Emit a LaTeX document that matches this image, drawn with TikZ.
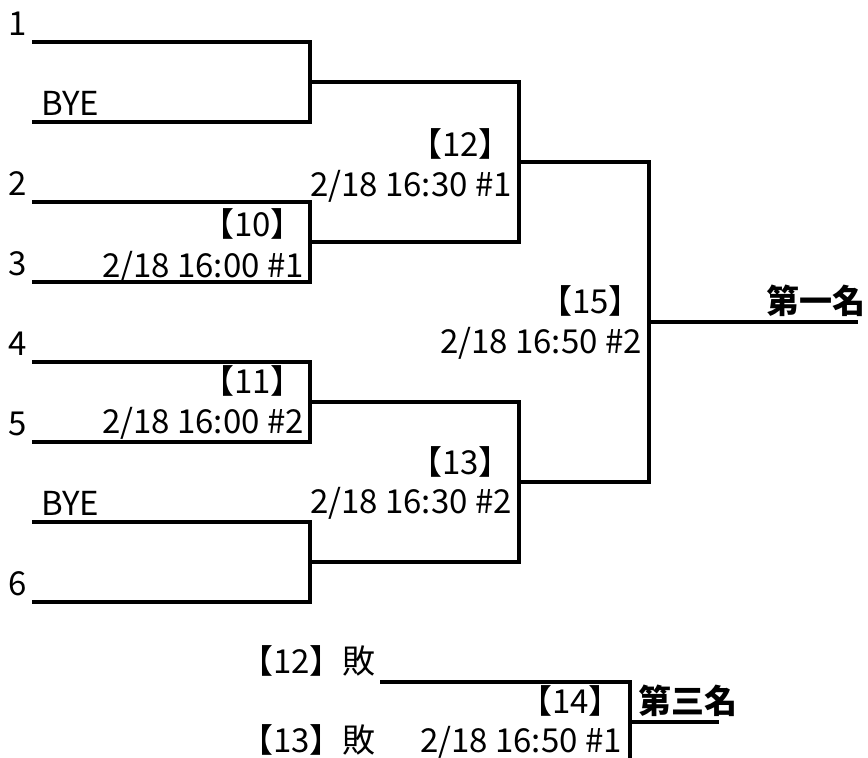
\documentclass[tikz,border=0pt]{standalone}
\usepackage{fontspec}
\setmainfont{Noto Sans CJK TC}
\usetikzlibrary{positioning}

\begin{document}
\begin{tikzpicture}[
  x=1pt, y=-1pt,
  font=\fontsize{33}{38}\selectfont,
  bline/.style={line width=3.2pt, draw=black},
  seed/.style={anchor=base west, inner sep=0pt},
  match/.style={anchor=base east, inner sep=0pt},
  place/.style={inner sep=0pt, font=\fontsize{33}{38}\selectfont\bfseries}
]
\useasboundingbox (0,0) rectangle (868,758);
\clip (0,0) rectangle (868,758);

% first round slots
\coordinate (s1) at (32,42);
\coordinate (bye1) at (32,122);
\coordinate (s2) at (32,202);
\coordinate (s3) at (32,282);
\coordinate (s4) at (32,362);
\coordinate (s5) at (32,442);
\coordinate (bye2) at (32,522);
\coordinate (s6) at (32,602);

% winners of each match
\coordinate (w1) at (310,82);
\coordinate (w10) at (310,242);
\coordinate (w11) at (310,402);
\coordinate (w6) at (310,562);
\coordinate (w12) at (519,162);
\coordinate (w13) at (519,482);
\coordinate (w15) at (649,322);
\coordinate (first) at (858,322);

% third place match
\coordinate (l12) at (380,682);
\coordinate (l13) at (380,762);
\coordinate (w14) at (630,722);
\coordinate (third) at (719,722);

\draw[bline] (s1) -| (w1) |- (bye1);
\draw[bline] (s2) -| (w10) |- (s3);
\draw[bline] (s4) -| (w11) |- (s5);
\draw[bline] (bye2) -| (w6) |- (s6);
\draw[bline] (w1) -| (w12) |- (w10);
\draw[bline] (w11) -| (w13) |- (w6);
\draw[bline] (w12) -| (w15) |- (w13);
\draw[bline] (w15) -- (first);
\draw[bline] (l12) -| (w14) |- (l13);
\draw[bline] (w14) -- (third);

% seeds
\node[seed] (n1) at (8,35) {1};
\node[seed] (nb1) at (41,115) {BYE};
\node[seed] (n2) at (8,195) {2};
\node[seed] (n3) at (8,275) {3};
\node[seed] (n4) at (8,355) {4};
\node[seed] (n5) at (8,435) {5};
\node[seed] (nb2) at (41,515) {BYE};
\node[seed] (n6) at (8,595) {6};

% match labels
\node[match] (t10) at (304,236) {【10】};
\node[match] (d10) at (304,277) {2/18 16:00 \#1};
\node[match] (t11) at (304,393) {【11】};
\node[match] (d11) at (304,433) {2/18 16:00 \#2};
\node[match] (t12) at (512,156) {【12】};
\node[match] (d12) at (512,196) {2/18 16:30 \#1};
\node[match] (t13) at (512,474) {【13】};
\node[match] (d13) at (512,513) {2/18 16:30 \#2};
\node[match] (t15) at (642,313) {【15】};
\node[match] (d15) at (642,353) {2/18 16:50 \#2};
\node[match] (t14) at (622,713) {【14】};
\node[match] (d14) at (622,752) {2/18 16:50 \#1};

\node[seed] (lose12) at (240,673) {【12】敗};
\node[seed] (lose13) at (240,752) {【13】敗};

% places
\node[place, anchor=base east] (p1) at (866,313) {第一名};
\node[place, anchor=base west] (p3) at (638,713) {第三名};
\end{tikzpicture}
\end{document}
